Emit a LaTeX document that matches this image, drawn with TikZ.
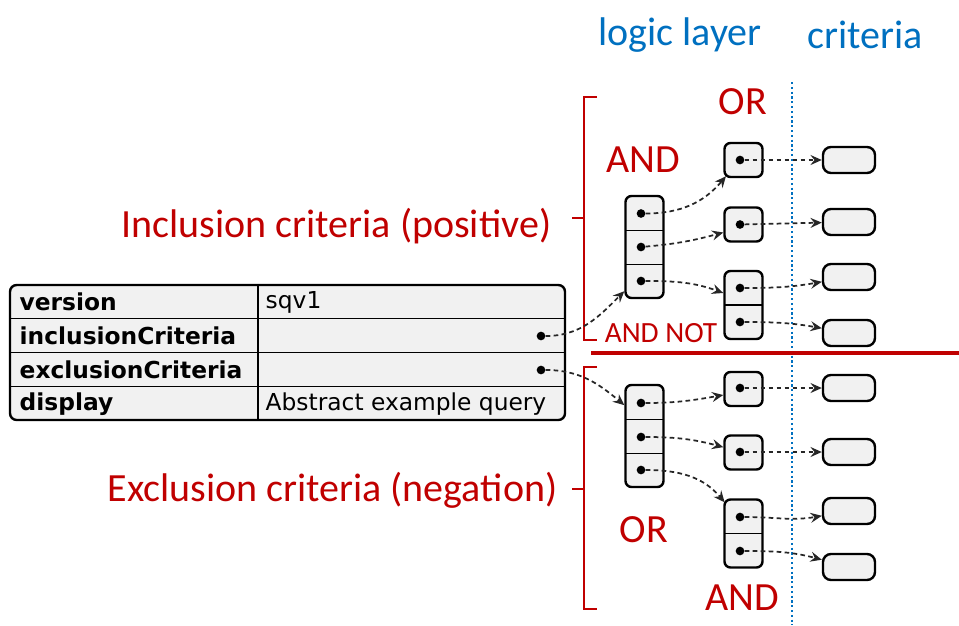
\documentclass[tikz,border=0pt]{standalone}
\usepackage{fontspec}
\setmainfont{Carlito}
\newfontfamily\umlfont{DejaVu Sans}
\usepackage{tikz}
\usetikzlibrary{arrows.meta}

\definecolor{umlgray}{HTML}{F1F1F1}
\definecolor{lblred}{HTML}{C00000}
\definecolor{lblblue}{HTML}{0070C0}

\begin{document}
\begin{tikzpicture}[
    x=0.75pt, y=-0.75pt,
    blk/.style={rectangle, rounded corners=4.5pt, draw, line width=1.8pt, fill=umlgray, inner sep=0pt, minimum width=28.5pt},
    crit/.style={rectangle, rounded corners=6pt, draw, line width=1.8pt, fill=umlgray, inner sep=0pt, minimum width=39pt, minimum height=19.5pt},
    pin/.style={circle, fill=black, inner sep=0pt, minimum size=6.5pt},
    link/.style={draw=black!85, line width=1.3pt, dash pattern=on 3.5pt off 2.5pt, -{Stealth[length=8.5pt, width=7.5pt, inset=3pt]}},
    key/.style={anchor=west, font=\umlfont\bfseries\fontsize{17.5}{17.5}\selectfont},
    val/.style={anchor=west, font=\umlfont\fontsize{17.5}{17.5}\selectfont},
    tag/.style={text=lblred, font=\fontsize{30}{30}\selectfont},
    head/.style={text=lblblue, font=\fontsize{30}{30}\selectfont},
    brace/.style={draw=lblred, line width=2pt},
    rule/.style={line width=1.4pt}
]
\useasboundingbox (0,0) rectangle (959,625);

% query table
\node[rectangle, rounded corners=5pt, draw, line width=1.8pt, fill=umlgray, minimum width=416.25pt, minimum height=101.25pt] (tbl) at (287.5,352.5) {};
\draw[rule] (10,318.5) -- (565,318.5) (10,352.5) -- (565,352.5) (10,386.5) -- (565,386.5);
\draw[rule] (258,285) -- (258,420);
\node[key] (kver) at (15,302) {version};
\node[key] (kinc) at (15,336) {inclusionCriteria};
\node[key] (kexc) at (15,370) {exclusionCriteria};
\node[key] (kdis) at (15,404) {display};
\node[val] (vver) at (261,302) {sqv1};
\node[val] (vdis) at (261,404) {Abstract example query};
\node[pin] (inc) at (541,336) {};
\node[pin] (exc) at (541,370) {};

% headings and separators
\node[head] (hlogic) at (680,35) {logic layer};
\node[head] (hcrit) at (865,35) {criteria};
\draw[lblblue, line width=1.6pt, dotted] (792,82) -- (792,625);
\draw[lblred, line width=2.6pt] (591,353) -- (959,353);

% braces
\draw[brace] (597,97) -- (584,97) -- (584,340) -- (597,340) (572,218) -- (584,218);
\draw[brace] (597,367) -- (584,367) -- (584,609) -- (597,609) (572,489) -- (584,489);
\node[tag, anchor=east] (linc) at (556,226) {Inclusion criteria (positive)};
\node[tag, anchor=east] (lexc) at (562,490) {Exclusion criteria (negation)};

% inclusion logic
\node[blk, minimum height=76.5pt] (andA) at (644.5,247) {};
\draw[rule] (626,230.5) -- (663,230.5) (626,264.5) -- (663,264.5);
\node[pin] (andA1) at (641,213.5) {};
\node[pin] (andA2) at (641,247) {};
\node[pin] (andA3) at (641,281) {};

\node[blk, minimum height=25.5pt] (orT) at (743.5,160) {};
\node[pin] (orT1) at (740,160) {};
\node[blk, minimum height=25.5pt] (orM) at (743.5,224.5) {};
\node[pin] (orM1) at (740,224.5) {};
\node[blk, minimum height=51pt] (orB) at (743.5,305) {};
\draw[rule] (724.5,305) -- (762.5,305);
\node[pin] (orB1) at (740,288) {};
\node[pin] (orB2) at (740,322) {};

\node[crit] (ci1) at (849,160) {};
\node[crit] (ci2) at (849,222) {};
\node[crit] (ci3) at (849,277) {};
\node[crit] (ci4) at (849,333) {};

\node[tag] (tor1) at (743,102) {OR};
\node[tag] (tand1) at (643,160) {AND};
\node[tag, font=\fontsize{22}{22}\selectfont] (tnot) at (661,333) {AND NOT};

% exclusion logic
\node[blk, minimum height=76.5pt] (orX) at (644.5,436) {};
\draw[rule] (626,419.5) -- (663,419.5) (626,453.5) -- (663,453.5);
\node[pin] (orX1) at (641,403) {};
\node[pin] (orX2) at (641,437) {};
\node[pin] (orX3) at (641,470) {};

\node[blk, minimum height=25.5pt] (exA) at (743.5,389) {};
\node[pin] (exA1) at (740,388) {};
\node[blk, minimum height=25.5pt] (exB) at (743.5,452.5) {};
\node[pin] (exB1) at (740,452) {};
\node[blk, minimum height=51pt] (exC) at (743.5,533.5) {};
\draw[rule] (724.5,533.5) -- (762.5,533.5);
\node[pin] (exC1) at (740,517) {};
\node[pin] (exC2) at (740,551) {};

\node[crit] (ce1) at (849,388) {};
\node[crit] (ce2) at (849,452) {};
\node[crit] (ce3) at (849,511) {};
\node[crit] (ce4) at (849,567) {};

\node[tag] (tor2) at (644,530) {OR};
\node[tag] (tand2) at (742,598) {AND};

% connectors
\draw[link] (inc) to[out=0, in=225] ([yshift=6pt]andA.south west);
\draw[link] (exc) to[out=0, in=140] ([yshift=-16pt]orX.north west);

\draw[link] (andA1) to[out=0, in=230] ([shift={(2pt,1.5pt)}]orT.south west);
\draw[link] (andA2) to[out=5, in=195] ([yshift=-6pt]orM.west);
\draw[link] (andA3) to[out=0, in=160] ([yshift=9pt]orB.west);
\draw[link] (orT1) -- (ci1);
\draw[link] (orM1) -- (ci2);
\draw[link] (orB1) to[out=0, in=190] (ci3);
\draw[link] (orB2) to[out=0, in=170] (ci4);

\draw[link] (orX1) to[out=0, in=190] ([yshift=-4.5pt]exA.west);
\draw[link] (orX2) to[out=0, in=165] ([yshift=4pt]exB.west);
\draw[link] (orX3) to[out=0, in=130] ([shift={(1pt,-3pt)}]exC.north west);
\draw[link] (exA1) -- (ce1);
\draw[link] (exB1) -- (ce2);
\draw[link] (exC1) to[out=0, in=190] (ce3);
\draw[link] (exC2) to[out=0, in=165] (ce4);

\end{tikzpicture}
\end{document}
